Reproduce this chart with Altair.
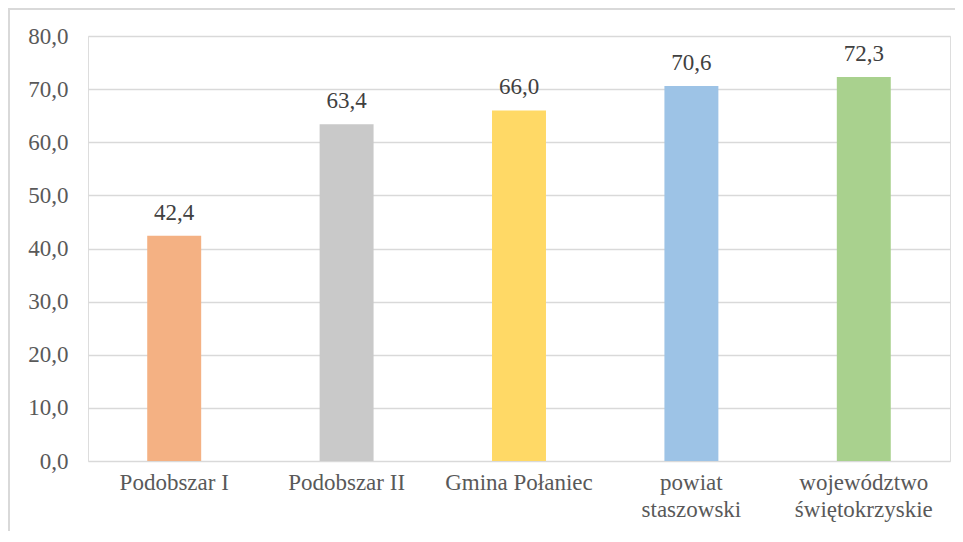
import altair as alt
import pandas as pd

categories = ["Podobszar I", "Podobszar II", "Gmina Połaniec", "powiat staszowski", "województwo świętokrzyskie"]
values = [42.4, 63.4, 66.0, 70.6, 72.3]
colors = ["#F4B183", "#C9C9C9", "#FFD966", "#9DC3E6", "#A9D18E"]

df = pd.DataFrame({"cat": categories, "val": values, "col": colors})

W, H = 862, 425
FONT = "Liberation Serif"

base = alt.Chart(df).encode(
    x=alt.X("cat:N", sort=categories, title=None,
            scale=alt.Scale(paddingInner=0.687),
            axis=alt.Axis(labelAngle=0, labelFont=FONT, labelFontSize=23,
                          labelColor="#595959", labelPadding=10, labelLineHeight=27,
                          ticks=False, domain=False, grid=False,
                          labelExpr="length(datum.label) > 15 ? split(datum.label, ' ') : datum.label")),
)

bars = base.mark_bar().encode(
    y=alt.Y("val:Q", title=None,
            scale=alt.Scale(domain=[0, 80]),
            axis=alt.Axis(values=[0, 10, 20, 30, 40, 50, 60, 70, 80],
                          labelFont=FONT, labelFontSize=23, labelColor="#595959",
                          labelPadding=20, ticks=False, domain=False,
                          grid=True, gridColor="#d9d9d9", gridWidth=1.3,
                          labelExpr="replace(format(datum.value, '.1f'), '.', ',')")),
    color=alt.Color("col:N", scale=None, legend=None),
)

labels = base.mark_text(font=FONT, fontSize=23, color="#404040",
                        baseline="alphabetic", dy=-16).transform_calculate(
    lab="replace(format(datum.val, '.1f'), '.', ',')"
).encode(
    y=alt.Y("val:Q"),
    text="lab:N",
)

frame = alt.Chart(pd.DataFrame({"a": [0]})).mark_rect(
    fill=None, stroke="#d9d9d9", strokeWidth=2
).encode(
    x=alt.value(-79), x2=alt.value(1100), y=alt.value(-27), y2=alt.value(700)
)

chart = alt.layer(frame, bars, labels).properties(
    width=W, height=H,
    autosize=alt.AutoSizeParams(type="none"),
    padding={"left": 80, "top": 28, "right": 5, "bottom": 70},
).configure_view(stroke=None).configure(background="white")

chart.save("out.html", embed_options={"renderer": "svg", "actions": False})
